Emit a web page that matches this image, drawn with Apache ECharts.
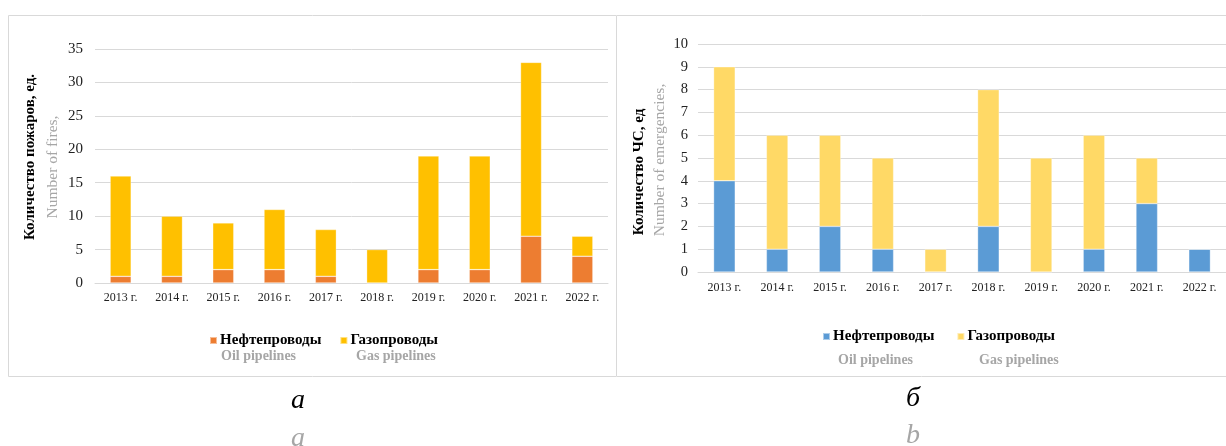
<!DOCTYPE html>
<html><head><meta charset="utf-8">
<script src="https://cdn.jsdelivr.net/npm/echarts@6/dist/echarts.min.js"></script>
<style>
html,body{margin:0;padding:0;background:#fff;}
#a{position:absolute;left:0;top:0;width:617px;height:446px;}
#b{position:absolute;left:617px;top:0;width:609px;height:446px;}
</style></head><body>
<div id="a"></div><div id="b"></div>
<script>
const categories = ['2013 г.','2014 г.','2015 г.','2016 г.','2017 г.','2018 г.','2019 г.','2020 г.','2021 г.','2022 г.'];
// Chart a: fires
const firesOil = [1,1,2,2,1,0,2,2,7,4];
const firesGas = [15,9,7,9,7,5,17,17,26,3];
const firesTicks = {min:0,max:35,interval:5};
// Chart b: emergencies
const emergOil = [4,1,2,1,0,2,0,1,3,1];
const emergGas = [5,5,4,4,1,6,5,5,2,0];
const emergTicks = {min:0,max:10,interval:1};
const seriesNames = ['Нефтепроводы','Газопроводы'];
const seriesNamesEn = ['Oil pipelines','Gas pipelines'];

const SERIF = '"Liberation Serif","DejaVu Serif",serif';
const GRID = '#d9d9d9';

function build(cfg){
  return {
    animation:false,
    textStyle:{fontFamily:SERIF},
    grid:{left:cfg.grid[0],right:cfg.grid[1],top:cfg.grid[2],bottom:cfg.grid[3]},
    legend:{
      data:seriesNames, left:cfg.legend[0], top:cfg.legend[1], itemWidth:7, itemHeight:7, itemGap:cfg.legendGap,
      icon:'rect', textStyle:{fontFamily:SERIF,fontWeight:'bold',fontSize:15,color:'#000',padding:[0,0,0,-2]}
    },
    xAxis:{type:'category',data:categories,
      axisLine:{lineStyle:{color:GRID}},axisTick:{show:false},
      axisLabel:{color:'#222',fontSize:12,margin:cfg.xMargin,fontFamily:SERIF}},
    yAxis:{type:'value',min:cfg.ticks.min,max:cfg.ticks.max,interval:cfg.ticks.interval,
      axisLine:{show:false},axisTick:{show:false},
      splitLine:{lineStyle:{color:GRID,width:1}},
      axisLabel:{color:'#222',fontSize:cfg.yFont,margin:cfg.yMargin,fontFamily:SERIF}},
    series:[
      {name:seriesNames[0],type:'bar',stack:'s',data:cfg.oil,barCategoryGap:'59%',
        itemStyle:{color:cfg.colors[0],borderColor:'rgba(255,255,255,0.5)',borderWidth:0.6}},
      {name:seriesNames[1],type:'bar',stack:'s',data:cfg.gas,barCategoryGap:'59%',
        itemStyle:{color:cfg.colors[1],borderColor:'rgba(255,255,255,0.5)',borderWidth:0.6}}
    ],
    graphic:[
      {type:'rect',shape:cfg.border,style:{fill:null,stroke:GRID,lineWidth:1},silent:true},
      {type:'text',x:cfg.title1[0],y:cfg.title1[1],rotation:Math.PI/2,
        style:{text:cfg.title1[2],font:'bold 15px '+SERIF,fill:'#000',align:'center',verticalAlign:'middle'}},
      {type:'text',x:cfg.title2[0],y:cfg.title2[1],rotation:Math.PI/2,
        style:{text:cfg.title2[2],font:'15.5px '+SERIF,fill:'#a6a6a6',align:'center',verticalAlign:'middle'}},
      {type:'text',x:cfg.en1[0],y:cfg.en1[1],style:{text:seriesNamesEn[0],font:'bold 14px '+SERIF,fill:'#a6a6a6',align:'left',verticalAlign:'middle'}},
      {type:'text',x:cfg.en2[0],y:cfg.en2[1],style:{text:seriesNamesEn[1],font:'bold 14px '+SERIF,fill:'#a6a6a6',align:'left',verticalAlign:'middle'}},
      {type:'text',x:cfg.cap1[0],y:cfg.cap1[1],style:{text:cfg.cap1[2],font:'italic 28px '+SERIF,fill:'#000',align:'center',verticalAlign:'middle'}},
      {type:'text',x:cfg.cap2[0],y:cfg.cap2[1],style:{text:cfg.cap2[2],font:'italic 28px '+SERIF,fill:'#a6a6a6',align:'center',verticalAlign:'middle'}}
    ]
  };
}

const ca = echarts.init(document.getElementById('a'),null,{renderer:'canvas'});
ca.setOption(build({
  grid:[95,9,49,163], ticks:firesTicks, oil:firesOil, gas:firesGas,
  colors:['#ED7D31','#FFC000'], legend:[204,328], legendGap:18,
  xMargin:9, yFont:15, yMargin:12,
  border:{x:8.5,y:15.5,width:608,height:361},
  title1:[30,157,'Количество пожаров, ед.'], title2:[53,167,'Number of fires,'],
  en1:[221,356], en2:[356,356],
  cap1:[298,401,'а'], cap2:[298,439,'a']
}));

const cb = echarts.init(document.getElementById('b'),null,{renderer:'canvas'});
cb.setOption(build({
  grid:[81,0,44,174], ticks:emergTicks, oil:emergOil, gas:emergGas,
  colors:['#5B9BD5','#FFD966'], legend:[200,324], legendGap:22,
  xMargin:10, yFont:14.5, yMargin:10,
  border:{x:-1,y:15.5,width:640,height:361},
  title1:[22,172,'Количество ЧС, ед'], title2:[43,160,'Number of emergencies,'],
  en1:[221,360], en2:[362,360],
  cap1:[296,399,'б'], cap2:[296,436,'b']
}));
</script>
</body></html>
